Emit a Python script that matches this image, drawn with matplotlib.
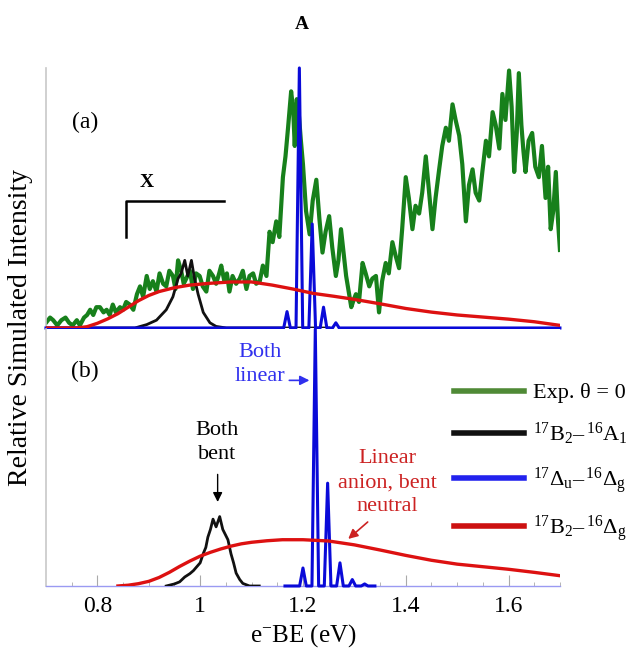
import numpy as np
import matplotlib
matplotlib.use("Agg")
import matplotlib.pyplot as plt
from matplotlib.lines import Line2D

plt.rcParams['font.family'] = ['Liberation Serif', 'DejaVu Serif']
plt.rcParams['mathtext.fontset'] = 'custom'
plt.rcParams['mathtext.rm'] = 'Liberation Serif'
plt.rcParams['mathtext.it'] = 'Liberation Serif:italic'

# experimental spectrum, theta = 0 (panel a)
expX = [0.700, 0.708, 0.714, 0.722, 0.730, 0.738, 0.745, 0.752, 0.760, 0.766,
        0.774, 0.780, 0.786, 0.792, 0.798, 0.805, 0.812, 0.818, 0.824, 0.830,
        0.836, 0.844, 0.850, 0.856, 0.863, 0.870, 0.877, 0.883, 0.889, 0.896,
        0.902, 0.908, 0.915, 0.921, 0.928, 0.934, 0.940, 0.947, 0.952, 0.957,
        0.963, 0.968, 0.973, 0.980, 0.986, 0.992, 0.999, 1.005, 1.012, 1.018,
        1.025, 1.031, 1.037, 1.041, 1.047, 1.052, 1.057, 1.063, 1.070, 1.077,
        1.083, 1.090, 1.096, 1.103, 1.109, 1.116, 1.122, 1.129, 1.135, 1.141,
        1.148, 1.154, 1.161, 1.166, 1.171, 1.177, 1.181, 1.184, 1.188, 1.192,
        1.196, 1.200, 1.206, 1.213, 1.219, 1.226, 1.232, 1.238, 1.244, 1.251,
        1.257, 1.264, 1.269, 1.274, 1.279, 1.284, 1.289, 1.294, 1.299, 1.303,
        1.309, 1.316, 1.322, 1.329, 1.335, 1.342, 1.348, 1.354, 1.361, 1.367,
        1.374, 1.380, 1.387, 1.393, 1.400, 1.406, 1.413, 1.419, 1.426, 1.432,
        1.439, 1.445, 1.452, 1.458, 1.465, 1.471, 1.478, 1.484, 1.491, 1.497,
        1.504, 1.510, 1.517, 1.523, 1.530, 1.536, 1.543, 1.549, 1.556, 1.562,
        1.569, 1.575, 1.582, 1.588, 1.594, 1.601, 1.606, 1.611, 1.616, 1.620,
        1.625, 1.629, 1.633, 1.639, 1.646, 1.652, 1.659, 1.665, 1.672, 1.677,
        1.682, 1.687, 1.692, 1.696, 1.700]
expY = [0.02, 0.04, 0.03, 0.01, 0.03, 0.04, 0.02, 0.01, 0.03, 0.01,
        0.04, 0.05, 0.07, 0.05, 0.08, 0.08, 0.06, 0.07, 0.05, 0.09,
        0.06, 0.08, 0.07, 0.10, 0.09, 0.07, 0.13, 0.16, 0.12, 0.20,
        0.15, 0.18, 0.14, 0.21, 0.17, 0.16, 0.22, 0.20, 0.15, 0.26,
        0.22, 0.17, 0.19, 0.22, 0.15, 0.21, 0.20, 0.16, 0.14, 0.22,
        0.20, 0.17, 0.21, 0.24, 0.18, 0.21, 0.14, 0.20, 0.17, 0.19,
        0.22, 0.15, 0.20, 0.21, 0.17, 0.18, 0.24, 0.20, 0.37, 0.33,
        0.41, 0.35, 0.58, 0.66, 0.77, 0.91, 0.84, 0.70, 0.88, 0.82,
        0.72, 0.63, 0.45, 0.36, 0.49, 0.57, 0.42, 0.29, 0.37, 0.43,
        0.31, 0.20, 0.26, 0.38, 0.29, 0.20, 0.14, 0.08, 0.11, 0.13,
        0.10, 0.25, 0.21, 0.16, 0.19, 0.20, 0.06, 0.18, 0.25, 0.21,
        0.33, 0.28, 0.23, 0.38, 0.58, 0.50, 0.38, 0.47, 0.44, 0.52,
        0.66, 0.53, 0.38, 0.50, 0.61, 0.70, 0.77, 0.72, 0.86, 0.80,
        0.74, 0.63, 0.41, 0.55, 0.61, 0.52, 0.49, 0.60, 0.72, 0.66,
        0.83, 0.78, 0.69, 0.90, 0.80, 0.99, 0.85, 0.60, 0.75, 0.98,
        0.78, 0.68, 0.60, 0.72, 0.75, 0.62, 0.58, 0.70, 0.50, 0.62,
        0.38, 0.45, 0.60, 0.42, 0.30]

# 17B2 - 16A1 simulation, panels a and b
bentX_a = [0.700, 0.873, 0.896, 0.915, 0.934, 0.947, 0.957, 0.963, 0.970, 0.976,
           0.983, 0.989, 0.996, 1.006, 1.019, 1.031, 1.051, 1.250]
bentY_a = [0.0, 0.0, 0.013, 0.03, 0.07, 0.12, 0.19, 0.21, 0.26, 0.20,
           0.26, 0.19, 0.13, 0.06, 0.02, 0.006, 0.0, 0.0]
bentX_b = [0.934, 0.950, 0.960, 0.970, 0.980, 0.987, 0.993, 1.000, 1.006, 1.011,
           1.015, 1.020, 1.025, 1.031, 1.038, 1.044, 1.049, 1.054, 1.060, 1.065,
           1.070, 1.077, 1.083, 1.096, 1.115]
bentY_b = [0.0, 0.008, 0.016, 0.035, 0.048, 0.06, 0.074, 0.09, 0.126, 0.15,
           0.19, 0.22, 0.26, 0.23, 0.27, 0.22, 0.20, 0.18, 0.125, 0.09,
           0.05, 0.025, 0.01, 0.0, 0.0]

# 17Du - 16Dg simulation: peak positions and heights
linPos_a = [1.169, 1.193, 1.218, 1.240, 1.264]
linHt_a = [0.063, 1.0, 0.40, 0.08, 0.02]
linPos_b = [1.200, 1.224, 1.248, 1.272, 1.296, 1.320]
linHt_b = [0.07, 1.0, 0.40, 0.09, 0.025, 0.008]

# 17B2 - 16Dg simulation
mixX_a = [0.70, 0.76, 0.78, 0.80, 0.82, 0.84, 0.86, 0.88, 0.90, 0.92, 0.95, 0.98, 1.02, 1.06,
          1.10, 1.14, 1.18, 1.22, 1.26, 1.30, 1.35, 1.40, 1.45, 1.50, 1.55, 1.60, 1.65, 1.70]
mixY_a = [0.0, 0.0, 0.005, 0.018, 0.035, 0.055, 0.08, 0.105, 0.125, 0.14, 0.155, 0.165, 0.172, 0.177,
          0.177, 0.165, 0.15, 0.133, 0.122, 0.11, 0.093, 0.075, 0.061, 0.05, 0.042, 0.034, 0.024, 0.01]
mixX_b = [0.84, 0.86, 0.88, 0.90, 0.92, 0.94, 0.96, 0.98, 1.00, 1.02, 1.04, 1.06, 1.08, 1.10,
          1.13, 1.16, 1.20, 1.25, 1.30, 1.35, 1.40, 1.45, 1.50, 1.55, 1.60, 1.65, 1.70]
mixY_b = [0.0, 0.003, 0.009, 0.018, 0.033, 0.053, 0.076, 0.097, 0.116, 0.131, 0.144, 0.155, 0.164, 0.17,
          0.176, 0.18, 0.18, 0.175, 0.16, 0.14, 0.119, 0.1, 0.085, 0.075, 0.065, 0.053, 0.04]

labels = ['Exp. θ = 0',
          '$^{17}$B$_2$–$\\,^{16}$A$_1$',
          '$^{17}$Δ$_\\mathrm{u}$–$\\,^{16}$Δ$_\\mathrm{g}$',
          '$^{17}$B$_2$–$\\,^{16}$Δ$_\\mathrm{g}$']

green = '#17801b'
black = '#111111'
blue = '#0a0ad8'
red = '#dd1111'


def sticks(pos, ht, lo, hi, hw=0.0065):
    # narrow triangular peaks on a flat zero line
    xs = [lo]
    ys = [0.0]
    for p, h in zip(pos, ht):
        xs += [p - hw, p, p + hw]
        ys += [0.0, h, 0.0]
    xs.append(hi)
    ys.append(0.0)
    return np.array(xs), np.array(ys)


fig = plt.figure(figsize=(6.35, 6.54), dpi=100)
axA = fig.add_axes([0.0724, 0.4985, 0.8094, 0.3976])
axB = fig.add_axes([0.0724, 0.104, 0.8094, 0.393])

for ax in (axA, axB):
    ax.set_xlim(0.7, 1.7)
    ax.set_ylim(0, 1.0)
    for s in ('top', 'right'):
        ax.spines[s].set_visible(False)
    ax.spines['left'].set_color('#c8c8c8')
    ax.spines['left'].set_linewidth(1.2)
    ax.set_yticks([])

# panel (a)
axA.spines['bottom'].set_visible(False)
axA.set_xticks([])
axA.plot(expX, expY, color=green, lw=3.0, zorder=2)
axA.plot(bentX_a, bentY_a, color=black, lw=2.0, zorder=3)
bx, by = sticks(linPos_a, linHt_a, 0.7, 1.7)
axA.plot(bx, by, color=blue, lw=2.2, zorder=4, clip_on=False)
axA.plot(mixX_a, mixY_a, color=red, lw=2.4, zorder=5)
axA.text(0.776, 0.79, '(a)', fontsize=17, ha='center', va='center')
axA.text(0.896, 0.558, 'X', fontsize=14, fontweight='bold', ha='center', va='center')
axA.plot([0.855, 0.855, 1.046], [0.35, 0.49, 0.49], color='black', lw=1.8)

# panel (b)
axB.spines['bottom'].set_color('#9a9af2')
axB.spines['bottom'].set_linewidth(1.0)
axB.set_xticks([0.8, 1.0, 1.2, 1.4, 1.6])
axB.set_xticklabels(['0.8', '1', '1.2', '1.4', '1.6'])
axB.set_xticks(np.arange(0.75, 1.71, 0.05), minor=True)
axB.tick_params(axis='x', which='major', direction='in', length=8, color='#aaaaaa', labelsize=17, pad=7)
axB.tick_params(axis='x', which='minor', direction='in', length=3, color='#aaaaaa')
axB.plot(bentX_b, bentY_b, color=black, lw=2.0, zorder=3)
bx, by = sticks(linPos_b, linHt_b, 1.165, 1.34)
axB.plot(bx, by, color=blue, lw=2.2, zorder=4, clip_on=False)
axB.plot(mixX_b, mixY_b, color=red, lw=2.4, zorder=5)
axB.text(0.776, 0.836, '(b)', fontsize=17, ha='center', va='center')
axB.set_xlabel('e$^{-}$BE (eV)', fontsize=18, labelpad=4)

axB.text(1.116, 0.86, 'Both\nlinear', fontsize=16, color='#3030ee', ha='center', va='center',
         linespacing=1.35)
axB.annotate('', xy=(1.218, 0.80), xytext=(1.168, 0.80),
             arrowprops=dict(arrowstyle='-|>', color='#3030ee', lw=1.2, mutation_scale=14))
axB.text(1.032, 0.557, 'Both\nbent', fontsize=16, color='black', ha='center', va='center',
         linespacing=1.35)
axB.annotate('', xy=(1.034, 0.316), xytext=(1.034, 0.445),
             arrowprops=dict(arrowstyle='-|>', color='black', lw=1.0, mutation_scale=14))
axB.text(1.364, 0.402, 'Linear\nanion, bent\nneutral', fontsize=16, color='#cc2222', ha='center',
         va='center', linespacing=1.35)
axB.annotate('', xy=(1.284, 0.176), xytext=(1.33, 0.256),
             arrowprops=dict(arrowstyle='-|>', color='#cc2222', lw=1.2, mutation_scale=14))

handles = [Line2D([], [], color='#4f8a36', lw=4),
           Line2D([], [], color=black, lw=4),
           Line2D([], [], color='#2222ee', lw=4),
           Line2D([], [], color='#cc1111', lw=4)]
axB.legend(handles, labels, loc='upper left', bbox_to_anchor=(0.794, 0.79), frameon=False,
           fontsize=16, handlelength=3.15, handletextpad=0.42, labelspacing=0.8,
           borderpad=0, borderaxespad=0)

fig.text(0.033, 0.5, 'Relative Simulated Intensity', rotation=90, fontsize=20,
         ha='center', va='center')
fig.text(0.4756, 0.962, 'A', fontsize=14, fontweight='bold', ha='center', va='center')

fig.savefig('out.png', dpi=100)
